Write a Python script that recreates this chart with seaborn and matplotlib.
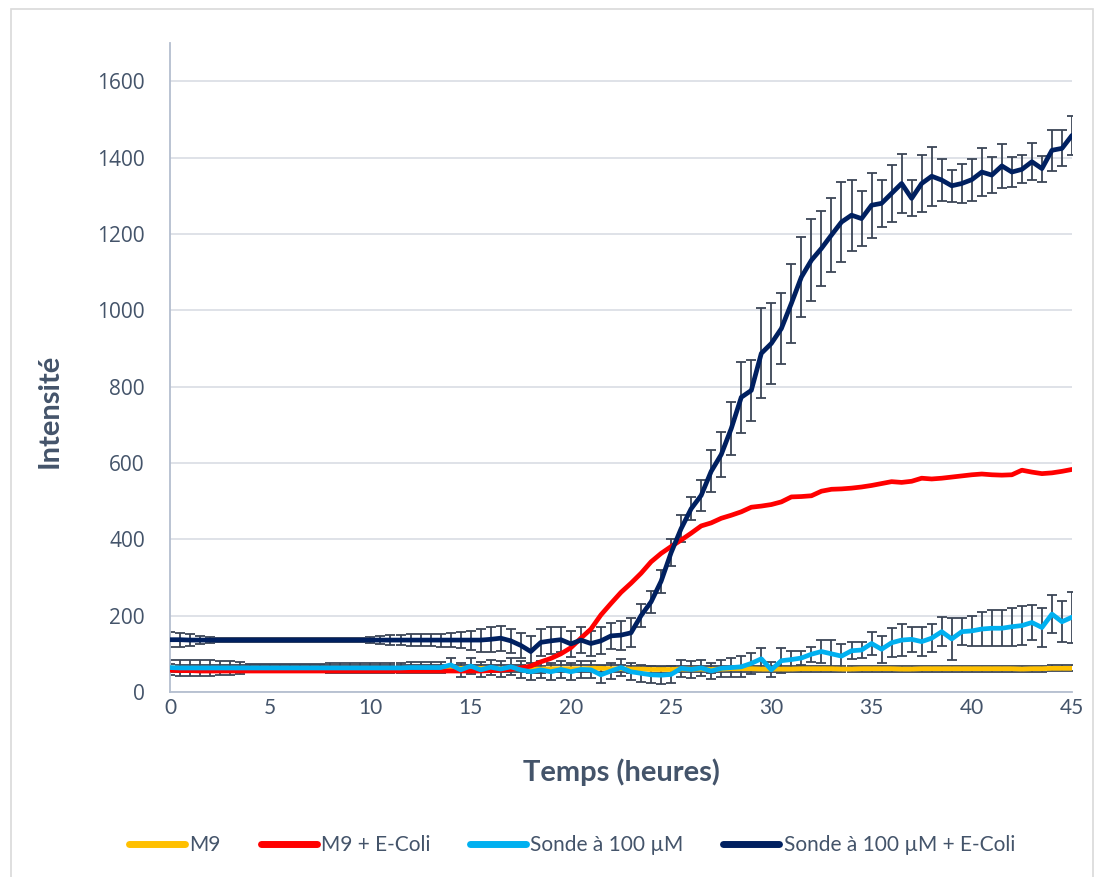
import numpy as np
import pandas as pd
import matplotlib
matplotlib.use("Agg")
import matplotlib.pyplot as plt
from matplotlib.lines import Line2D
from matplotlib.patches import Rectangle
import seaborn as sns

# Sampling grid: one reading every half hour
temps_h = np.arange(0, 45.5, 0.5)

series_names = ["M9", "M9 + E-Coli", "Sonde à 100 µM", "Sonde à 100 µM + E-Coli"]
series_colors = ["#FFC000", "#FF0000", "#00B0F0", "#002060"]

m9 = [63, 62, 62, 62, 62, 62, 62, 62, 62, 62,
      62, 62, 62, 62, 62, 62, 62, 62, 62, 62,
      62, 62, 62, 62, 62, 62, 62, 62, 62, 62,
      62, 62, 62, 61, 61, 61, 60, 60, 61, 61,
      61, 61, 62, 62, 61, 61, 60, 60, 59, 59,
      59, 60, 60, 60, 59, 60, 61, 61, 61, 60,
      60, 60, 60, 61, 61, 61, 61, 60, 60, 61,
      61, 61, 61, 60, 60, 61, 61, 61, 61, 61,
      61, 61, 61, 61, 61, 60, 61, 61, 62, 62,
      62]
m9_err = [10, 10, 10, 10, 10, 10, 10, 10, 10, 10,
          10, 10, 10, 10, 10, 10, 10, 10, 10, 10,
          10, 10, 10, 10, 10, 10, 10, 10, 10, 10,
          9, 9, 9, 9, 9, 9, 9, 9, 9, 9,
          9, 9, 9, 9, 9, 9, 9, 9, 9, 9,
          8, 8, 8, 8, 8, 8, 8, 8, 8, 8,
          8, 8, 8, 8, 8, 8, 8, 8, 8, 8,
          8, 8, 8, 8, 8, 8, 8, 8, 8, 8,
          8, 8, 8, 8, 8, 8, 8, 8, 8, 8,
          8]

m9_ecoli = [57, 56, 56, 55, 55, 55, 55, 55, 55, 55,
            55, 55, 55, 55, 55, 55, 55, 55, 55, 55,
            55, 55, 55, 55, 55, 55, 55, 55, 55, 55,
            55, 55, 56, 57, 59, 63, 68, 79, 88, 100,
            116, 141, 165, 202, 232, 261, 285, 311, 341, 363,
            381, 398, 416, 435, 443, 455, 463, 472, 484, 487,
            491, 498, 511, 512, 514, 526, 531, 532, 534, 537,
            541, 546, 551, 549, 552, 560, 558, 560, 563, 566,
            569, 571, 569, 568, 569, 581, 576, 572, 574, 578,
            583]

sonde = [64, 63, 63, 63, 63, 63, 63, 63, 63, 63,
         63, 63, 63, 63, 63, 63, 63, 63, 63, 63,
         63, 63, 63, 63, 64, 64, 64, 64, 71, 58,
         68, 58, 65, 60, 66, 58, 53, 58, 53, 59,
         53, 59, 58, 45, 55, 64, 53, 49, 45, 44,
         46, 62, 59, 63, 55, 62, 64, 66, 75, 87,
         58, 82, 85, 89, 99, 106, 100, 94, 108, 110,
         127, 112, 129, 136, 138, 132, 141, 158, 139, 158,
         160, 165, 167, 167, 171, 174, 182, 169, 204, 184,
         196]
sonde_err = [20, 20, 20, 20, 20, 18, 18, 15, 10, 10,
             10, 10, 10, 10, 10, 10, 12, 12, 12, 12,
             12, 13, 13, 13, 14, 14, 15, 15, 18, 18,
             20, 20, 20, 20, 22, 22, 22, 22, 22, 22,
             22, 22, 22, 22, 22, 22, 22, 22, 22, 22,
             22, 22, 22, 22, 22, 22, 24, 28, 28, 28,
             20, 33, 22, 18, 20, 30, 35, 33, 22, 20,
             30, 35, 38, 43, 32, 37, 37, 38, 56, 35,
             40, 45, 47, 47, 50, 52, 45, 52, 50, 54,
             67]

sonde_ecoli = [137, 137, 136, 136, 136, 136, 136, 136, 136, 136,
               136, 136, 136, 136, 136, 136, 136, 136, 136, 136,
               136, 136, 136, 136, 136, 136, 136, 136, 136, 136,
               136, 136, 138, 141, 134, 122, 106, 130, 134, 137,
               126, 136, 127, 134, 147, 149, 155, 200, 236, 290,
               365, 428, 480, 515, 578, 622, 690, 772, 790, 887,
               913, 952, 1018, 1087, 1131, 1162, 1197, 1231, 1249, 1240,
               1275, 1280, 1306, 1332, 1293, 1332, 1351, 1341, 1326, 1332,
               1342, 1362, 1354, 1378, 1362, 1369, 1389, 1371, 1419, 1424,
               1458]
sonde_ecoli_err = [20, 18, 15, 10, 8, 6, 6, 5, 5, 5,
                   5, 5, 5, 5, 6, 6, 6, 6, 6, 6,
                   8, 10, 12, 14, 15, 15, 16, 17, 18, 20,
                   25, 30, 33, 33, 32, 33, 40, 35, 35, 33,
                   35, 35, 33, 35, 35, 38, 38, 30, 28, 30,
                   35, 35, 30, 40, 55, 60, 70, 93, 79, 118,
                   106, 93, 103, 104, 107, 99, 97, 105, 93, 73,
                   85, 61, 75, 77, 47, 74, 77, 56, 42, 52,
                   55, 62, 48, 57, 40, 37, 48, 34, 53, 47,
                   52]

y_ticks = [0, 200, 400, 600, 800, 1000, 1200, 1400, 1600]
x_ticks = [0, 5, 10, 15, 20, 25, 30, 35, 40, 45]

values = [m9, m9_ecoli, sonde, sonde_ecoli]
# Series drawn with standard-deviation bars
bar_series = [(m9, m9_err), (sonde, sonde_err), (sonde_ecoli, sonde_ecoli_err)]

df = pd.concat(
    [pd.DataFrame({"temps": temps_h, "intensite": v, "serie": n})
     for n, v in zip(series_names, values)],
    ignore_index=True,
)

sns.set_theme(style="white")
plt.rcParams["font.family"] = ["Lato", "DejaVu Sans"]

text_color = "#44546A"
W, H = 1104, 877
fig = plt.figure(figsize=(W / 100, H / 100), dpi=100)
ax = fig.add_axes([170 / W, 1 - 692 / H, 902 / W, 649 / H])

# Error bars first, curves on top
for v, e in bar_series:
    ax.errorbar(temps_h, v, yerr=e, fmt="none", ecolor="#3B4556",
                elinewidth=1.3, capsize=3.6, capthick=1.3, zorder=2)

sns.lineplot(data=df, x="temps", y="intensite", hue="serie",
             hue_order=series_names,
             palette=dict(zip(series_names, series_colors)),
             linewidth=3.4, legend=False, ax=ax, zorder=3,
             solid_joinstyle="round", solid_capstyle="round")

ax.set_xlim(0, 45)
ax.set_ylim(0, 1700)
ax.set_xticks(x_ticks)
ax.set_yticks(y_ticks)
ax.set_xticklabels([str(t) for t in x_ticks], fontsize=15, color=text_color)
ax.set_yticklabels([str(t) for t in y_ticks], fontsize=15, color=text_color,
                   family=["Open Sans", "DejaVu Sans"])
ax.tick_params(axis="x", length=0, pad=4)
ax.tick_params(axis="y", length=0, pad=18)

ax.yaxis.grid(True, color="#D9DDE4", linewidth=1.2)
ax.xaxis.grid(False)
ax.set_axisbelow(True)
for side in ("top", "right"):
    ax.spines[side].set_visible(False)
for side in ("left", "bottom"):
    ax.spines[side].set_color("#B4BECF")
    ax.spines[side].set_linewidth(1.3)

ax.set_xlabel("Temps (heures)", fontsize=21, fontweight="bold", color=text_color)
ax.set_ylabel("Intensité", fontsize=21, fontweight="bold", color=text_color)
ax.xaxis.set_label_coords(0.5, (692 - 772) / 649)
ax.xaxis.label.set_verticalalignment("center")
ax.yaxis.set_label_coords((50 - 170) / 902, (692 - 411) / 649)
ax.yaxis.label.set_verticalalignment("center")

handles = [Line2D([], [], color=c, linewidth=5, solid_capstyle="round")
           for c in series_colors]
fig.legend(handles, series_names, loc="center",
           bbox_to_anchor=(572 / W, 1 - 845 / H), ncol=4, frameon=False,
           handlelength=2.7, handletextpad=0.2, columnspacing=1.9,
           fontsize=15, labelcolor=text_color)

# Chart-area frame
fig.patches.append(Rectangle((11 / W, -0.01), (1093 - 11) / W, 1 - 9 / H + 0.01,
                             transform=fig.transFigure, fill=False,
                             edgecolor="#D9D9D9", linewidth=1.2))

fig.savefig("out.png", dpi=100)
